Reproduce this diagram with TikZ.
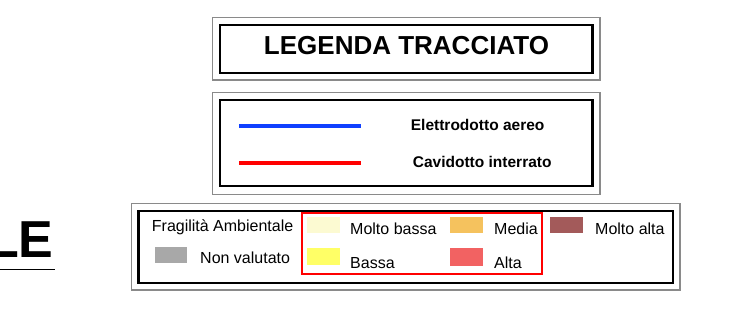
\documentclass[tikz,border=0pt]{standalone}
\usepackage{fontspec}
\setmainfont{Liberation Sans}
\definecolor{outergray}{HTML}{8A8A8A}
\definecolor{lineblue}{HTML}{1040FF}
\definecolor{linered}{HTML}{FF0000}
\definecolor{cMoltoBassa}{HTML}{FCFAD2}
\definecolor{cBassa}{HTML}{FFFF66}
\definecolor{cMedia}{HTML}{F5C25E}
\definecolor{cAlta}{HTML}{F26262}
\definecolor{cMoltoAlta}{HTML}{A35A5A}
\definecolor{cNonVal}{HTML}{A8A8A8}
\begin{document}
\begin{tikzpicture}[x=1pt,y=-1pt,
  outerbox/.style={draw=outergray,line width=1.1pt},
  innerbox/.style={draw=black,line width=2.4pt},
  legline/.style={line width=4pt},
  swatch/.style={draw=none},
  lbl/.style={inner sep=0pt,anchor=base west,font=\fontsize{16}{18}\selectfont},
  blbl/.style={inner sep=0pt,anchor=base west,font=\fontsize{15.5}{18}\selectfont\bfseries}]
\useasboundingbox (0,0) rectangle (753,320);
% title box
\draw[outerbox] (212.7,17.3) rectangle (600,80);
\draw[innerbox] (220,25) rectangle (592.5,73);
\node[inner sep=0pt,anchor=base,font=\fontsize{26}{30}\selectfont\bfseries] (title) at (406.5,55) {LEGENDA TRACCIATO};
% lines box
\draw[outerbox] (212.7,92.7) rectangle (600,194.3);
\draw[innerbox] (220,100) rectangle (592.5,186);
\coordinate (b1) at (239.3,125.7);
\coordinate (b2) at (360.7,125.7);
\coordinate (r1) at (239.3,162.7);
\coordinate (r2) at (360.7,162.7);
\draw[legline,lineblue] (b1) -- (b2);
\draw[legline,linered] (r1) -- (r2);
\node[blbl] (elet) at (410.7,130.7) {Elettrodotto aereo};
\node[blbl] (cavi) at (412.7,168) {Cavidotto interrato};
% fragility box
\draw[outerbox] (131.7,203.3) rectangle (680,290);
\draw[innerbox] (138.3,211) rectangle (672.7,283.3);
\draw[draw=linered,line width=2pt] (301.7,213.3) rectangle (541.7,274);
\node[lbl] (frag) at (151.7,231.8) {Fragilità Ambientale};
\fill[cNonVal] (155,246.7) rectangle (186.7,263.3);
\node[lbl] (nonval) at (200,263.5) {Non valutato};
\fill[cMoltoBassa] (306.7,216.7) rectangle (340,233.3);
\node[lbl] (mb) at (350,234.5) {Molto bassa};
\fill[cBassa] (306.7,248.3) rectangle (340,265);
\node[lbl] (ba) at (350,268.5) {Bassa};
\fill[cMedia] (450,216.7) rectangle (482.7,233.3);
\node[lbl] (me) at (494,234.3) {Media};
\fill[cAlta] (450,248.3) rectangle (482.7,265.7);
\node[lbl] (al) at (494,268.3) {Alta};
\fill[cMoltoAlta] (550,216.7) rectangle (583.3,233.3);
\node[lbl] (ma) at (595,234.5) {Molto alta};
% clipped heading at left
\begin{scope}
\clip (0,0) rectangle (753,320);
\node[inner sep=0pt,anchor=base east,font=\fontsize{52}{56}\selectfont\bfseries] (le) at (53.7,257.3) {LE};
\draw[line width=1.5pt] (-5,269.3) -- (55,269.3);
\end{scope}
\end{tikzpicture}
\end{document}
